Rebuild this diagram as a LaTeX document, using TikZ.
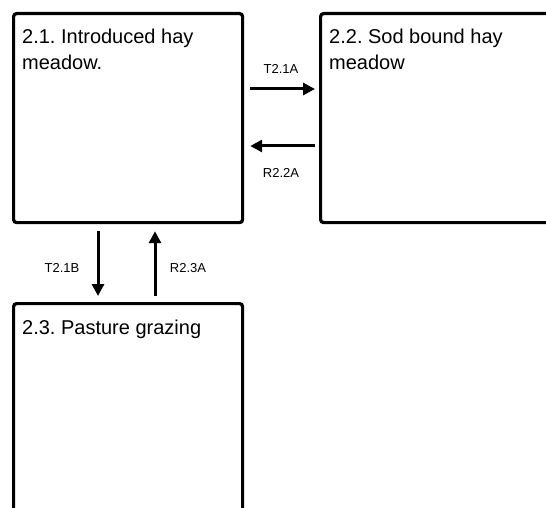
\documentclass[tikz,border=0pt]{standalone}
\usepackage{fontspec}
\setmainfont{Liberation Sans}
\usetikzlibrary{arrows.meta,calc}
\frenchspacing

\tikzset{
  statebox/.style={draw=black, line width=3.2pt, rounded corners=3pt,
    minimum width=229pt, minimum height=209pt, anchor=north west,
    inner sep=0pt, fill=white},
  statetext/.style={anchor=base west, align=left, inner sep=0pt,
    font=\fontsize{20}{26}\selectfont},
  trans/.style={line width=3pt, -{Triangle[length=12pt,width=12pt]}},
  translabel/.style={inner sep=0pt, font=\fontsize{13}{15}\selectfont},
}

\begin{document}
\begin{tikzpicture}[x=1pt, y=-1pt]
  \useasboundingbox (0,0) rectangle (546,508);
  \clip (0,0) rectangle (546,508);
  \fill[white] (0,0) rectangle (546,508);

  % state boxes
  \node[statebox] (b1) at (12,12) {};
  \node[statebox, minimum width=250pt] (b2) at (319,12) {};
  \node[statebox, minimum height=230pt] (b3) at (12,302) {};

  % state names (base anchor sits on the last line)
  \node[statetext] (t1) at (22,70) {2.1. Introduced hay\\meadow.};
  \node[statetext] (t2) at (329,70) {2.2. Sod bound hay\\meadow};
  \node[statetext] (t3) at (22,334) {2.3. Pasture grazing};

  % transitions between 2.1 and 2.2
  \draw[trans] ([shift={(6,77)}]b1.north east) -- ([shift={(-4,77)}]b2.north west);
  \draw[trans] ([shift={(-4,134)}]b2.north west) -- ([shift={(6,134)}]b1.north east);
  \node[translabel] (l1) at (281,69) {T2.1A};
  \node[translabel] (l2) at (281,173) {R2.2A};

  % transitions between 2.1 and 2.3
  \draw[trans] ([shift={(86,7)}]b1.south west) -- ([shift={(86,-6)}]b3.north west);
  \draw[trans] ([shift={(143,-6)}]b3.north west) -- ([shift={(143,7)}]b1.south west);
  \node[translabel] (l3) at (62,268) {T2.1B};
  \node[translabel] (l4) at (188,268) {R2.3A};
\end{tikzpicture}
\end{document}
